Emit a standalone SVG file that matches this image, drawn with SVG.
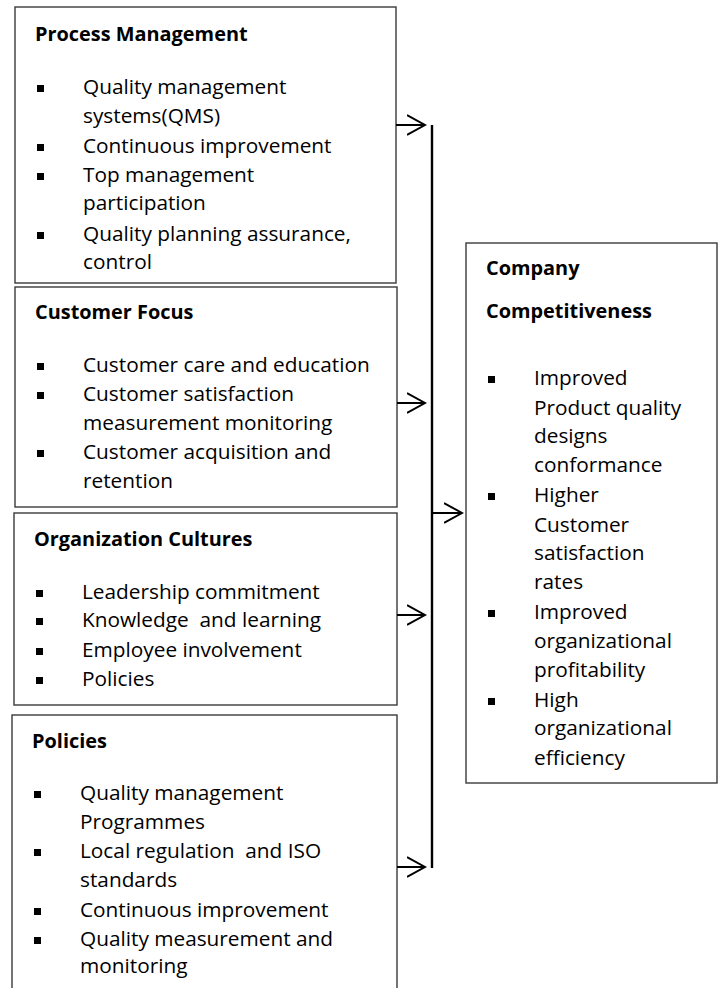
<svg xmlns="http://www.w3.org/2000/svg" width="724" height="988" viewBox="0 0 724 988">
<style>
.box{fill:#fff;stroke:#3a3a3a;stroke-width:1.4}
.t{font-family:"Open Sans","Liberation Sans",sans-serif;font-size:20.8px;fill:#000;white-space:pre}
.h{font-family:"Open Sans","Liberation Sans",sans-serif;font-size:19.9px;font-weight:bold;fill:#000}
.ln{stroke:#000;stroke-width:2;fill:none}
.vl{stroke:#000;stroke-width:2.4;fill:none}
</style>
<defs>
<marker id="ah" markerWidth="20" markerHeight="24" refX="18" refY="11" orient="auto" markerUnits="userSpaceOnUse">
<path d="M0,1 L18,11 L0,21" fill="none" stroke="#000" stroke-width="2"/>
</marker>
<rect id="sq" width="7" height="7"/>
</defs>
<g id="process-management">
<rect class="box" x="15" y="7" width="381" height="276"/>
<text class="h" x="35" y="41">Process Management</text>
<use href="#sq" x="37" y="85"/>
<text class="t" x="83" y="94">Quality management</text>
<text class="t" x="83" y="123">systems(QMS)</text>
<use href="#sq" x="37" y="144"/>
<text class="t" x="83" y="153">Continuous improvement</text>
<use href="#sq" x="37" y="173"/>
<text class="t" x="83" y="182">Top management</text>
<text class="t" x="83" y="210">participation</text>
<use href="#sq" x="37" y="232"/>
<text class="t" x="83" y="241">Quality planning assurance,</text>
<text class="t" x="83" y="269">control</text>
</g>
<g id="customer-focus">
<rect class="box" x="15" y="287" width="382" height="220"/>
<text class="h" x="35" y="319">Customer Focus</text>
<use href="#sq" x="37" y="363"/>
<text class="t" x="83" y="372">Customer care and education</text>
<use href="#sq" x="37" y="392"/>
<text class="t" x="83" y="401">Customer satisfaction</text>
<text class="t" x="83" y="430">measurement monitoring</text>
<use href="#sq" x="37" y="450"/>
<text class="t" x="83" y="459">Customer acquisition and</text>
<text class="t" x="83" y="488">retention</text>
</g>
<g id="organization-cultures">
<rect class="box" x="14" y="513" width="383" height="192"/>
<text class="h" x="34" y="546">Organization Cultures</text>
<use href="#sq" x="36" y="590"/>
<text class="t" x="82" y="599">Leadership commitment</text>
<use href="#sq" x="36" y="618"/>
<text class="t" x="82" y="627" xml:space="preserve">Knowledge  and learning</text>
<use href="#sq" x="36" y="648"/>
<text class="t" x="82" y="657">Employee involvement</text>
<use href="#sq" x="36" y="677"/>
<text class="t" x="82" y="686">Policies</text>
</g>
<g id="policies">
<rect class="box" x="12" y="715" width="385" height="290"/>
<text class="h" x="32" y="748">Policies</text>
<use href="#sq" x="34" y="791"/>
<text class="t" x="80" y="800">Quality management</text>
<text class="t" x="80" y="829">Programmes</text>
<use href="#sq" x="34" y="849"/>
<text class="t" x="80" y="858" xml:space="preserve">Local regulation  and ISO</text>
<text class="t" x="80" y="887">standards</text>
<use href="#sq" x="34" y="908"/>
<text class="t" x="80" y="917">Continuous improvement</text>
<use href="#sq" x="34" y="937"/>
<text class="t" x="80" y="946">Quality measurement and</text>
<text class="t" x="80" y="973">monitoring</text>
</g>
<g id="company-competitiveness">
<rect class="box" x="466" y="243" width="251" height="540"/>
<text class="h" x="486" y="275">Company</text>
<text class="h" x="486" y="318">Competitiveness</text>
<use href="#sq" x="488" y="376"/>
<text class="t" x="534" y="385">Improved</text>
<text class="t" x="534" y="415">Product quality</text>
<text class="t" x="534" y="443">designs</text>
<text class="t" x="534" y="472">conformance</text>
<use href="#sq" x="488" y="493"/>
<text class="t" x="534" y="502">Higher</text>
<text class="t" x="534" y="532">Customer</text>
<text class="t" x="534" y="560">satisfaction</text>
<text class="t" x="534" y="589">rates</text>
<use href="#sq" x="488" y="610"/>
<text class="t" x="534" y="619">Improved</text>
<text class="t" x="534" y="648">organizational</text>
<text class="t" x="534" y="677">profitability</text>
<use href="#sq" x="488" y="698"/>
<text class="t" x="534" y="707">High</text>
<text class="t" x="534" y="735">organizational</text>
<text class="t" x="534" y="765">efficiency</text>
</g>
<g id="connectors">
<line class="vl" x1="432" y1="125" x2="432" y2="868"/>
<line class="ln" x1="396" y1="125" x2="425" y2="125" marker-end="url(#ah)"/>
<line class="ln" x1="397" y1="403" x2="425" y2="403" marker-end="url(#ah)"/>
<line class="ln" x1="397" y1="615" x2="425" y2="615" marker-end="url(#ah)"/>
<line class="ln" x1="397" y1="867" x2="425" y2="867" marker-end="url(#ah)"/>
<line class="ln" x1="432" y1="513" x2="462" y2="513" marker-end="url(#ah)"/>
</g>
</svg>
